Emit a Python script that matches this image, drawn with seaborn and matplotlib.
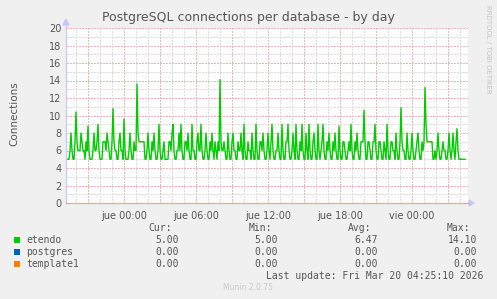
import matplotlib
matplotlib.use("Agg")
import matplotlib.pyplot as plt
from matplotlib.patches import Rectangle, Polygon
from matplotlib.lines import Line2D
import seaborn as sns
import pandas as pd

# ---------------- data ----------------
title = "PostgreSQL connections per database - by day"
y_label = "Connections"
start_time = "2026-03-18 19:15"
sample_freq = "5min"

etendo = [
    5, 5, 5, 6, 8, 6, 5, 5, 7, 10.4, 7, 6, 6, 6, 8, 7, 6, 6, 5, 7, 6, 8.8, 6, 5,
    5, 5, 6, 8, 6, 6, 7, 9, 6, 5, 5, 5, 7, 7, 7, 6, 8, 7, 6, 5, 5, 7, 10.8, 7,
    6, 6, 5, 5, 7, 8, 6, 6, 5, 9.6, 6, 5, 5, 5, 6, 8, 6, 5, 5, 7, 6, 6, 13.6, 8,
    7, 7, 7, 7, 7, 7, 5, 5, 6, 8, 6, 5, 5, 7, 6, 8, 6, 5, 5, 6, 9, 6, 5, 5,
    6, 7, 5, 5, 5, 5, 7, 7, 6, 8, 9, 6, 5, 5, 6, 6, 8, 6, 9, 6, 5, 5, 7, 7,
    6, 8, 6, 5, 5, 9, 6, 6, 5, 5, 7, 8, 6, 6, 9, 6, 5, 5, 6, 8, 6, 5, 5, 7,
    6, 8, 6, 5, 7, 6, 5, 7, 6, 14.1, 7, 6, 6, 7, 6, 5, 5, 8, 6, 5, 5, 7, 8, 6,
    6, 5, 5, 7, 6, 6, 8, 6, 5, 9, 6, 5, 5, 7, 6, 6, 5, 8, 6, 5, 5, 9, 6, 5,
    5, 7, 7, 6, 8, 6, 5, 5, 6, 8, 6, 5, 7, 9, 6, 5, 5, 6, 6, 8, 6, 5, 5, 9,
    6, 5, 5, 7, 7, 9, 6, 5, 5, 6, 8, 6, 5, 9, 6, 5, 5, 7, 6, 9, 6, 5, 5, 8,
    6, 5, 9, 6, 5, 5, 7, 8, 6, 5, 5, 9, 6, 5, 6, 7, 9, 6, 5, 5, 7, 6, 8, 6,
    5, 5, 7, 6, 8, 6, 5, 5, 8.8, 6, 5, 5, 7, 7, 6, 5, 5, 6, 7, 6, 9, 6, 5, 5,
    7, 6, 8, 6, 5, 5, 7, 7, 7, 10.6, 7, 5, 5, 7, 7, 6, 5, 5, 7, 7, 9, 6, 5, 5,
    7, 7, 6, 5, 5, 7, 6, 5, 9, 6, 5, 5, 7, 7, 6, 6, 5, 8, 6, 5, 5, 7, 10.9, 7,
    6, 6, 5, 5, 8, 6, 5, 5, 6, 8, 6, 5, 5, 6, 7, 8, 6, 5, 5, 7, 6, 7, 13.2, 9,
    7, 7, 7, 7, 7, 7, 5, 5, 6, 5, 6, 8, 6, 5, 5, 6, 7, 6, 6, 5, 5, 6, 8, 6,
    5, 6, 8, 6, 5, 7, 8.5, 6, 5, 5, 5, 5, 5, 5, 5,
]

legend_names = ["etendo", "postgres", "template1"]
legend_colors = ["#00cc00", "#0066b3", "#ff8000"]
stat_headers = ["Cur:", "Min:", "Avg:", "Max:"]
stat_cur = ["5.00", "0.00", "0.00"]
stat_min = ["5.00", "0.00", "0.00"]
stat_avg = ["6.47", "0.00", "0.00"]
stat_max = ["14.10", "0.00", "0.00"]

x_tick_times = ["2026-03-19 00:00", "2026-03-19 06:00", "2026-03-19 12:00",
                "2026-03-19 18:00", "2026-03-20 00:00"]
x_tick_labels = ["jue 00:00", "jue 06:00", "jue 12:00", "jue 18:00", "vie 00:00"]
y_ticks = [0, 2, 4, 6, 8, 10, 12, 14, 16, 18, 20]

last_update = "Last update: Fri Mar 20 04:25:10 2026"
munin_version = "Munin 2.0.75"
rrd_credit = "RRDTOOL / TOBI OETIKER"

# ---------------- figure ----------------
W, H = 497, 299
BG = "#f0f0f0"
TXT = "#555555"
fig = plt.figure(figsize=(W / 100, H / 100), dpi=100, facecolor=BG)


def fx(px):
    return px / W


def fy(py):
    return 1 - py / H


L, R, T, B = 67, 468, 28, 203
ax = fig.add_axes([fx(L), fy(B), fx(R - L), (B - T) / H])
ax.set_facecolor("white")

times = pd.date_range(start_time, periods=len(etendo), freq=sample_freq)
df = pd.DataFrame({"time": times, "connections": etendo})

t0 = times[0]
t_end = t0 + pd.Timedelta(minutes=5 * (R - L))
ax.set_xlim(t0, t_end)
ax.set_ylim(0, 20)

# grid (rrdtool style dotted)
dot = (0, (1.4, 1.4))
RED = "#f2b4b4"
GRY = "#dcdcdc"
for v in range(1, 21):
    col = RED if v % 2 == 0 else GRY
    ax.axhline(v, color=col, lw=0.72, ls=dot, zorder=1, antialiased=False)
hours = pd.date_range(t0.ceil("h"), t_end, freq="h")
for h in hours:
    col = RED if h.hour % 3 == 0 else GRY
    ax.axvline(h, color=col, lw=0.72, ls=dot, zorder=1, antialiased=False)

sns.lineplot(data=df, x="time", y="connections", color=legend_colors[0],
             linewidth=1.0, ax=ax, zorder=3, legend=False)

for s in ax.spines.values():
    s.set_visible(False)

ax.set_xticks([pd.Timestamp(t) for t in x_tick_times])
ax.set_xticklabels(x_tick_labels)
ax.set_yticks(y_ticks)
ax.set_yticklabels([str(v) for v in y_ticks])
ax.tick_params(axis="both", length=0, labelsize=7, colors=TXT, pad=4)
ax.tick_params(axis="x", pad=6)
ax.set_xlabel("")
ax.set_ylabel("")

# axes lines + arrows
fig.add_artist(Line2D([fx(L - 1), fx(L - 1)], [fy(B), fy(24)], color="#c8c8f8", lw=0.9))
fig.add_artist(Line2D([fx(L - 1), fx(R + 1)], [fy(B), fy(B)], color="#e8a8a0", lw=0.9))
fig.add_artist(Polygon([(fx(L - 4), fy(25)), (fx(L + 2), fy(25)), (fx(L - 1), fy(19))],
                       closed=True, color="#c8c8f8", transform=fig.transFigure))
fig.add_artist(Polygon([(fx(R + 1), fy(B - 3)), (fx(R + 1), fy(B + 3)), (fx(R + 6), fy(B))],
                       closed=True, color="#c8c8f8", transform=fig.transFigure))

# texts
fig.text(fx(248), fy(17), title, ha="center", va="center", fontsize=9, color=TXT)
fig.text(fx(14), fy(114), y_label, ha="center", va="center", rotation=90,
         fontsize=7.5, color=TXT)
fig.text(fx(488), fy(5), rrd_credit, ha="center", va="top", rotation=270,
         fontsize=5, color="#c4c4c4")

mono = "DejaVu Sans Mono"
header_right = [172, 272, 371, 470]
for hdr, xr in zip(stat_headers, header_right):
    fig.text(fx(xr), fy(228), hdr, ha="right", va="center", fontsize=7,
             family=mono, color=TXT)

row_y = [240, 252, 264]
val_right = [179, 278, 378, 477]
for i, name in enumerate(legend_names):
    y = row_y[i]
    fig.add_artist(Rectangle((fx(14), fy(y + 3)), 6 / W, 6 / H, transform=fig.transFigure,
                             facecolor=legend_colors[i], edgecolor="none"))
    fig.text(fx(26), fy(y), name, ha="left", va="center", fontsize=7, family=mono, color=TXT)
    for col, xr in zip([stat_cur, stat_min, stat_avg, stat_max], val_right):
        fig.text(fx(xr), fy(y), col[i], ha="right", va="center", fontsize=7,
                 family=mono, color=TXT)

fig.text(fx(483), fy(276), last_update, ha="right", va="center", fontsize=7,
         family=mono, color=TXT)
fig.text(fx(248), fy(288), munin_version, ha="center", va="center", fontsize=5.5,
         color="#c8c8c8")

fig.savefig("out.png", dpi=100, facecolor=BG)
